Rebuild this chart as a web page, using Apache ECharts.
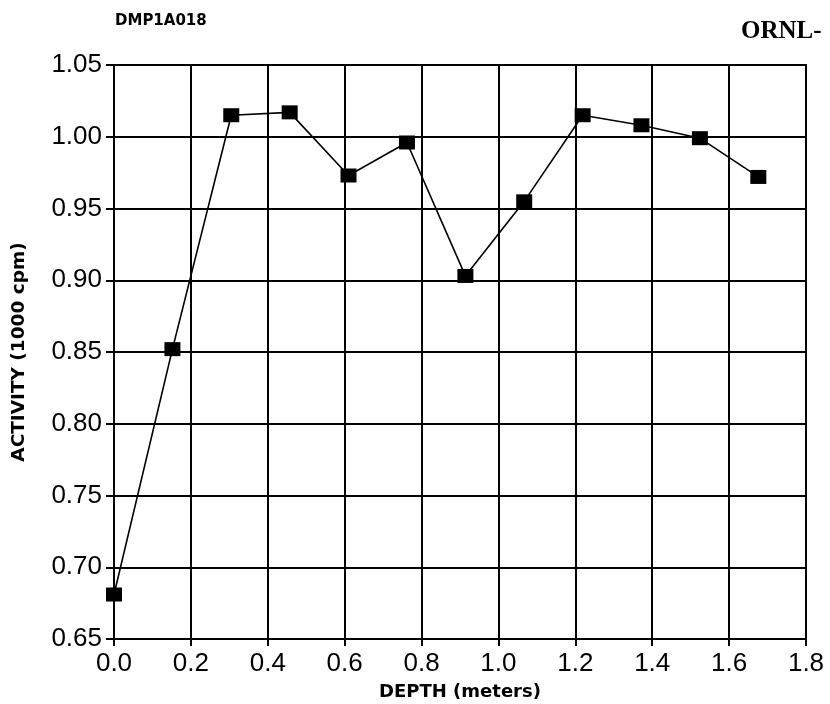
<!DOCTYPE html>
<html><head><meta charset="utf-8">
<script src="https://cdn.jsdelivr.net/npm/echarts@6/dist/echarts.min.js"></script>
<style>html,body{margin:0;padding:0;background:#fff}#c{width:830px;height:704px}</style>
</head><body><div id="c"></div>
<script>
var depths = [0.0, 0.152, 0.305, 0.457, 0.610, 0.762, 0.914, 1.067, 1.219, 1.372, 1.524, 1.676];
var activity = [0.681, 0.852, 1.015, 1.017, 0.973, 0.996, 0.903, 0.955, 1.015, 1.008, 0.999, 0.972];
var xTicks = {min: 0, max: 1.8, interval: 0.2};
var yTicks = {min: 0.65, max: 1.05, interval: 0.05};

var sans = '"Liberation Sans", Arial, sans-serif';
var chart = echarts.init(document.getElementById('c'));
chart.setOption({
  animation: false,
  backgroundColor: '#fff',
  graphic: [
    {type: 'text', left: 115, top: 14, style: {text: 'DMP1A018', font: 'bold 15px "DejaVu Sans", sans-serif', fill: '#000'}},
    {type: 'text', left: 741, top: 19, style: {text: 'ORNL-', font: 'bold 25px "Liberation Serif", "Times New Roman", serif', fill: '#000'}}
  ],
  grid: {left: 114, right: 24, top: 65, bottom: 65, show: true, borderColor: '#000', borderWidth: 2,
    containLabel: false, outerBoundsMode: 'none'},
  xAxis: {
    type: 'value', min: xTicks.min, max: xTicks.max, interval: xTicks.interval,
    name: 'DEPTH (meters)', nameLocation: 'middle', nameGap: 44,
    nameTextStyle: {fontFamily: '"DejaVu Sans", sans-serif', fontWeight: 'bold', fontSize: 18, color: '#000'},
    axisLine: {lineStyle: {color: '#000', width: 2}},
    axisTick: {show: true, length: 7, lineStyle: {color: '#000', width: 2}},
    axisLabel: {color: '#000', fontSize: 26, fontFamily: sans, margin: 12,
      formatter: function(v){ return v.toFixed(1); }},
    splitLine: {show: true, lineStyle: {color: '#000', width: 2}}
  },
  yAxis: {
    type: 'value', min: yTicks.min, max: yTicks.max, interval: yTicks.interval,
    name: 'ACTIVITY (1000 cpm)', nameLocation: 'middle', nameGap: 85, nameRotate: 90,
    nameTextStyle: {fontFamily: '"DejaVu Sans", sans-serif', fontWeight: 'bold', fontSize: 18.5, color: '#000'},
    axisLine: {lineStyle: {color: '#000', width: 2}},
    axisTick: {show: true, length: 8, lineStyle: {color: '#000', width: 2}},
    axisLabel: {color: '#000', fontSize: 26, fontFamily: sans, margin: 12,
      formatter: function(v){ return v.toFixed(2); }},
    splitLine: {show: true, lineStyle: {color: '#000', width: 2}}
  },
  series: [{
    type: 'line',
    data: depths.map(function(d, i){ return [d, activity[i]]; }),
    symbol: 'rect', symbolSize: [16, 14],
    itemStyle: {color: '#000'},
    lineStyle: {color: '#000', width: 1.6}
  }]
});
</script></body></html>
